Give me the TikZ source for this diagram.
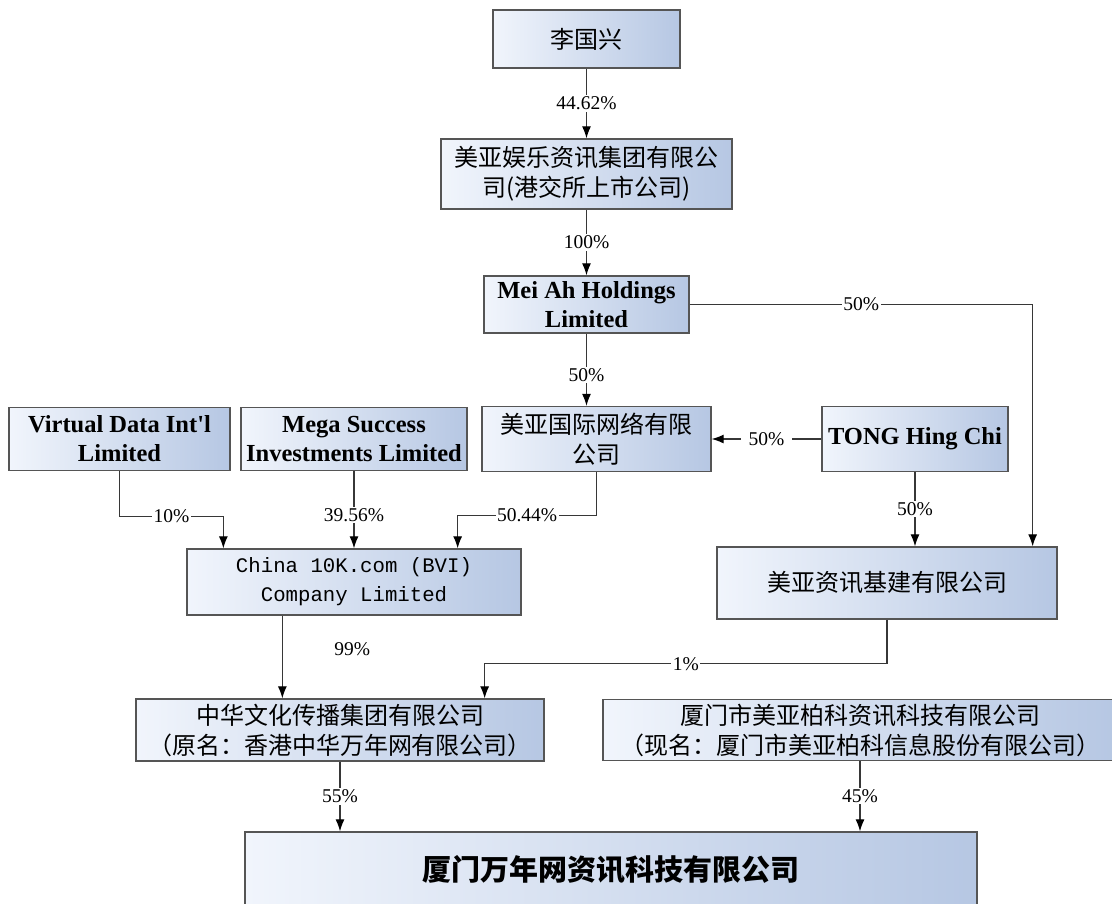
\documentclass[tikz,border=0pt]{standalone}
\usepackage{fontspec}
\setmainfont{Liberation Serif}
\setmonofont{Liberation Mono}
\newfontfamily\cjk{Noto Sans CJK SC}
\usetikzlibrary{positioning,arrows.meta}
\definecolor{boxlight}{RGB}{241,245,252}
\definecolor{boxdark}{RGB}{182,199,227}
\definecolor{boxline}{RGB}{85,85,85}
\definecolor{linkgray}{RGB}{55,55,55}
\tikzset{
  company/.style={draw=boxline, line width=1.3pt, left color=boxlight, right color=boxdark, align=center, inner sep=2pt, font=\cjk\fontsize{24}{30}\selectfont},
  person/.style={company, font=\bfseries\fontsize{24.5}{29}\selectfont},
  share/.style={fill=white, inner sep=1.5pt, font=\fontsize{19.5}{22}\selectfont},
  owns/.style={draw=linkgray, line width=1.2pt, -{Latex[length=12pt,width=9pt,color=black]}},
}
\begin{document}
\begin{tikzpicture}
        \useasboundingbox (0,0) rectangle (1112pt,-903pt);
        \node [company, minimum width=187pt, minimum height=58pt] (lgx) at (586.5pt,-39pt) {李国兴};
        \node [company, on grid, below=135pt of lgx, minimum width=291pt, minimum height=70pt] (meiah) {美亚娱乐资讯集团有限公\\司(港交所上市公司)};
        \node [person, on grid, below=130.5pt of meiah, minimum width=205pt, minimum height=57pt] (holdings) {Mei Ah Holdings\\Limited};
        \node [company, on grid, below right=134.5pt and 10pt of holdings, minimum width=229pt, minimum height=65pt] (network) {美亚国际网络有限\\公司};
        \node [person, on grid, right=318.5pt of network, minimum width=186pt, minimum height=65pt] (tong) {TONG Hing Chi};
        \node [company, on grid, below left=144pt and 28pt of tong, minimum width=340pt, minimum height=72pt] (infra) {美亚资讯基建有限公司};
        \node [person, on grid, left=242.5pt of network, minimum width=226pt, minimum height=63pt] (mega) {Mega Success\\Investments Limited};
        \node [person, on grid, left=234.5pt of mega, minimum width=221pt, minimum height=63pt] (virtual) {Virtual Data Int{\textquotesingle}l\\Limited};
        \node [company, on grid, below=143pt of mega, font=\ttfamily\fontsize{20.7}{29}\selectfont, minimum width=334pt, minimum height=66pt] (tenk) {China 10K.com (BVI)\\Company Limited};
        \node [company, on grid, below left=148pt and 14pt of tenk, minimum width=408pt, minimum height=62pt] (zhonghua) {中华文化传播集团有限公司\\（原名：香港中华万年网有限公司）};
        \node [company, on grid, right=520pt of zhonghua, minimum width=514pt, minimum height=61pt] (meiyapico) {厦门市美亚柏科资讯科技有限公司\\（现名：厦门市美亚柏科信息股份有限公司）};
        \node [company, on grid, below right=140pt and 271pt of zhonghua, font=\cjk\bfseries\fontsize{29}{34}\selectfont, minimum width=732pt, minimum height=76pt] (wannian) {厦门万年网资讯科技有限公司};
        \coordinate (tenkout) at ([xshift=96pt]tenk.south west);
        \draw [owns] (lgx.south) -- node [share] {44.62\%} (lgx.south |- meiah.north);
        \draw [owns] (meiah.south) -- node [share] {100\%} (meiah.south |- holdings.north);
        \draw [owns] (holdings.south) -- node [share, pos=0.57] {50\%} (holdings.south |- network.north);
        \draw [owns] (holdings.east) -| node [share, pos=0.25] {50\%} ([xshift=-25pt]infra.north east);
        \draw [owns] (tong) -- node [share, inner xsep=8pt] {50\%} (network);
        \draw [owns] (tong) -- node [share] {50\%} (tong |- infra.north);
        \draw [owns] (virtual.south) -- ++(0,-45pt) -| node [share, pos=0.25] {10\%} ([xshift=37pt]tenk.north west);
        \draw [owns] (mega) -- node [share, pos=0.57] {39.56\%} (tenk);
        \draw [owns] (network.south) -- ++(0,-43pt) -| node [share, pos=0.25] {50.44\%} ([xshift=-64pt]tenk.north east);
        \draw [owns] (tenkout) -- node [share, pos=0.4, right=50pt] {99\%} (tenkout |- zhonghua.north);
        \draw [owns] (infra.south) -- ++(0,-44pt) -| node [share, pos=0.25] {1\%} ([xshift=-60pt]zhonghua.north east);
        \draw [owns] (zhonghua.south) -- node [share] {55\%} (zhonghua.south |- wannian.north);
        \draw [owns] (meiyapico.south) -- node [share] {45\%} (meiyapico.south |- wannian.north);
      \end{tikzpicture}
\end{document}
